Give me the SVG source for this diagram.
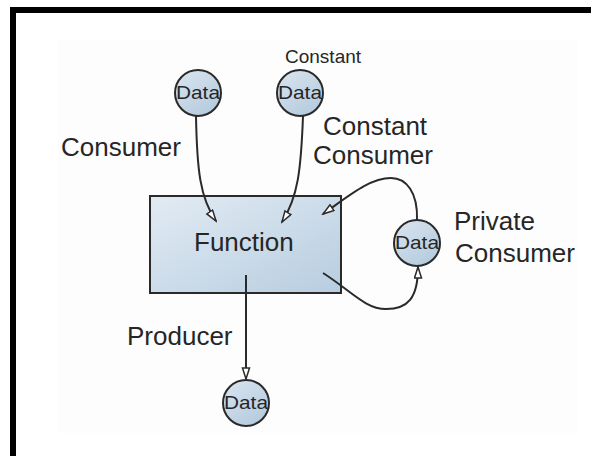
<svg xmlns="http://www.w3.org/2000/svg" width="591" height="456" viewBox="0 0 591 456">
  <defs>
    <linearGradient id="boxFill" x1="0" y1="0" x2="1" y2="1">
      <stop offset="0" stop-color="#e2ebf3"/>
      <stop offset="1" stop-color="#b7cde0"/>
    </linearGradient>
    <linearGradient id="circFill" x1="0" y1="0" x2="0.7" y2="1">
      <stop offset="0" stop-color="#dbe6f0"/>
      <stop offset="1" stop-color="#b5cbde"/>
    </linearGradient>
    <marker id="arrow" markerUnits="userSpaceOnUse" markerWidth="14" markerHeight="10" refX="12" refY="4.5" orient="auto">
      <path d="M1,1 L12,4.5 L1,8 Z" fill="#ffffff" stroke="#2a2a2a" stroke-width="1.5" stroke-linejoin="miter"/>
    </marker>
    <style>
      .lbl { font-family: "Liberation Sans", Arial, sans-serif; font-size: 26px; fill: #262626; }
      .small { font-family: "Liberation Sans", Arial, sans-serif; font-size: 19px; fill: #262626; }
      .dtxt { font-family: "Liberation Sans", Arial, sans-serif; font-size: 19px; fill: #262626; text-anchor: middle; }
      .circ { fill: url(#circFill); stroke: #2a2a2a; stroke-width: 2; }
      .conn { fill: none; stroke: #2a2a2a; stroke-width: 2; marker-end: url(#arrow); }
    </style>
  </defs>

  <rect x="0" y="0" width="591" height="456" fill="#ffffff"/>
  <rect x="58" y="40" width="519" height="393" fill="#fdfdfd"/>
  <!-- frame -->
  <rect x="10" y="7" width="581" height="6" fill="#000000"/>
  <rect x="10" y="7" width="6" height="449" fill="#000000"/>

  <g id="function">
    <rect x="150" y="196" width="191" height="97" fill="url(#boxFill)" stroke="#2a2a2a" stroke-width="2"/>
    <text class="lbl" x="194" y="251">Function</text>
  </g>

  <g id="connectors">
    <path class="conn" d="M196,116 C197,170 200,198 216,221"/>
    <path class="conn" d="M303,116 C301,170 298,197 282,222"/>
    <path class="conn" d="M417,220 C418,192 406,178 391,178 C370,178 350,195 323,214"/>
    <path class="conn" d="M323,273 C350,290 365,309 386,309 C408,309 418,298 418,267"/>
    <path class="conn" d="M246,275 L246,379"/>
  </g>

  <g id="data-consumer">
    <circle class="circ" cx="198" cy="93" r="23"/>
    <text class="dtxt" x="198" y="99" textLength="44" lengthAdjust="spacingAndGlyphs">Data</text>
  </g>
  <g id="data-constant">
    <circle class="circ" cx="300" cy="93" r="23"/>
    <text class="dtxt" x="300" y="99" textLength="44" lengthAdjust="spacingAndGlyphs">Data</text>
  </g>
  <g id="data-private">
    <circle class="circ" cx="417" cy="243" r="23"/>
    <text class="dtxt" x="417" y="249" textLength="44" lengthAdjust="spacingAndGlyphs">Data</text>
  </g>
  <g id="data-produced">
    <circle class="circ" cx="246" cy="403" r="23"/>
    <text class="dtxt" x="246" y="409" textLength="44" lengthAdjust="spacingAndGlyphs">Data</text>
  </g>

  <g id="labels">
    <text class="small" x="285" y="63">Constant</text>
    <text class="lbl" x="61" y="156">Consumer</text>
    <text class="lbl" x="323" y="135">Constant</text>
    <text class="lbl" x="313" y="164">Consumer</text>
    <text class="lbl" x="454" y="230">Private</text>
    <text class="lbl" x="455" y="262">Consumer</text>
    <text class="lbl" x="127" y="345">Producer</text>
  </g>
</svg>
